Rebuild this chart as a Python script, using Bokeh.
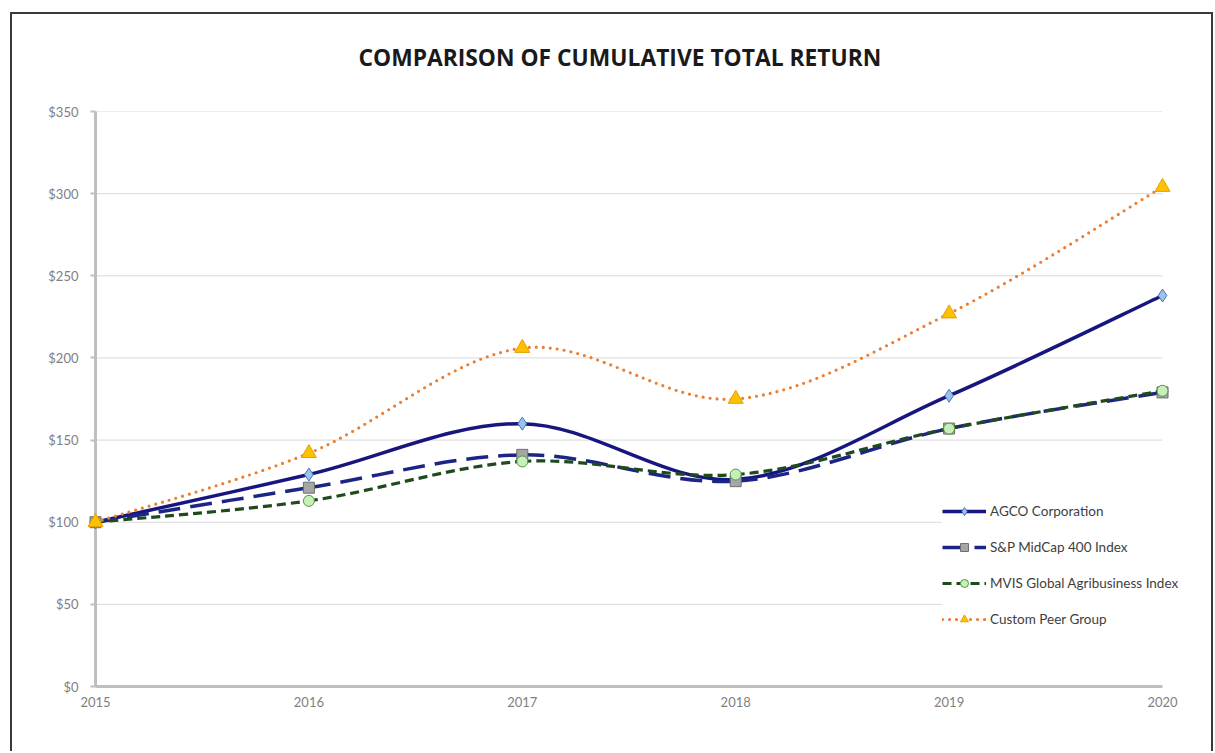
import numpy as np
from bokeh.plotting import figure
from bokeh.models import (Range1d, FixedTicker, NumeralTickFormatter, Legend, LegendItem,
                          ColumnDataSource)
from bokeh.embed import file_html
from bokeh.resources import INLINE

years = [2015, 2016, 2017, 2018, 2019, 2020]
agco = [100, 129, 160, 126, 177, 238]
sp400 = [100, 121, 141, 125, 157, 179]
mvis = [100, 113, 137, 129, 157, 180]
peer = [100, 142, 206, 175, 227, 304]
y_ticks = [0, 50, 100, 150, 200, 250, 300, 350]
title_text = "COMPARISON OF CUMULATIVE TOTAL RETURN"
names = ["AGCO Corporation", "S&P MidCap 400 Index",
         "MVIS Global Agribusiness Index", "Custom Peer Group"]

W, H = 1213, 751
FRAME_L, FRAME_R = 95, 8            # borders around the plotting frame (px)
px_per_year = 1067 / 5              # plot width from first to last year
x_end = years[-1] + (W - FRAME_L - FRAME_R - 1067) / px_per_year  # room for the legend

box = "#3A3A3A"
frame_css = (f"linear-gradient({box},{box}) 10px 12px / 1203px 2px no-repeat, "
             f"linear-gradient({box},{box}) 10px 12px / 2px 760px no-repeat, "
             f"linear-gradient({box},{box}) 1211px 12px / 2px 760px no-repeat, white")

p = figure(width=W, height=H, output_backend="svg", toolbar_location=None,
           x_range=Range1d(years[0], x_end), y_range=Range1d(y_ticks[0], y_ticks[-1]),
           min_border_left=FRAME_L, min_border_right=FRAME_R, min_border_top=111, min_border_bottom=65,
           styles={"background": frame_css})
p.outline_line_color = None
p.background_fill_color = "white"
p.border_fill_color = None

p.title.text = title_text
p.title.align = "left"
p.title.offset = 263
p.title.text_font = "Open Sans"
p.title.text_font_style = "bold"
p.title.text_font_size = "22.8px"
p.title.text_color = "#1A1A1A"
p.title.standoff = 77

# axes
p.xaxis.ticker = FixedTicker(ticks=years)
p.xaxis.bounds = (years[0], years[-1])
p.yaxis.ticker = FixedTicker(ticks=y_ticks)
p.yaxis.formatter = NumeralTickFormatter(format="$0")
for ax in (p.xaxis[0], p.yaxis[0]):
    ax.axis_line_color = "#BFBFBF"
    ax.axis_line_width = 3
    ax.major_tick_line_color = "#BFBFBF"
    ax.major_tick_line_width = 2
    ax.minor_tick_line_color = None
    ax.major_tick_in = 0
    ax.major_label_text_color = "#7F7F7F"
    ax.major_label_text_font = "Lato"
    ax.major_label_text_font_size = "13px"
p.yaxis.major_tick_out = 5
p.yaxis.major_label_standoff = 12
p.xaxis.major_tick_out = 0
p.xaxis.major_label_standoff = 10
p.xgrid.grid_line_color = None
p.ygrid.grid_line_color = None

# horizontal gridlines spanning only the years
p.segment(x0=years[0], x1=years[-1], y0=y_ticks[1:], y1=y_ticks[1:],
          line_color="#D9D9D9", line_width=1, level="underlay")


def smooth(xs, ys):
    x = np.asarray(xs, float)
    y = np.asarray(ys, float)
    xp = np.concatenate([[x[0]], x, [x[-1]]])
    yp = np.concatenate([[y[0]], y, [y[-1]]])
    n = len(x)
    d = {"x0": [], "y0": [], "x1": [], "y1": [], "cx0": [], "cy0": [], "cx1": [], "cy1": []}
    for i in range(n - 1):
        j = i + 1
        d["x0"].append(xp[j]); d["y0"].append(yp[j])
        d["x1"].append(xp[j + 1]); d["y1"].append(yp[j + 1])
        d["cx0"].append(xp[j] + (xp[j + 1] - xp[j - 1]) / 6)
        d["cy0"].append(yp[j] + (yp[j + 1] - yp[j - 1]) / 6)
        d["cx1"].append(xp[j + 1] - (xp[j + 2] - xp[j]) / 6)
        d["cy1"].append(yp[j + 1] - (yp[j + 2] - yp[j]) / 6)
    return ColumnDataSource(d)


styles = [
    dict(series=agco, color="#16167E", dash="solid", width=3.5,
         marker="diamond", size=13, fill="#9DC3E6", mline="#4472C4"),
    dict(series=sp400, color="#1C2585", dash="22 10", width=3.5,
         marker="square", size=11, fill="#A6A6A6", mline="#6F6F6F"),
    dict(series=mvis, color="#1E4A1E", dash="9 5", width=3.2,
         marker="circle", size=11, fill="#C6EFB9", mline="#4E9A3C"),
    dict(series=peer, color="#ED7D31", dash="0 7", width=3.2,
         marker="triangle", size=15, fill="#FFC000", mline="#E6A100"),
]

items = []
for name, st in zip(names, styles):
    src = smooth(years, st["series"])
    cap = "round" if st["marker"] == "triangle" else "butt"
    p.bezier(x0="x0", y0="y0", x1="x1", y1="y1", cx0="cx0", cy0="cy0", cx1="cx1", cy1="cy1",
             source=src, line_color=st["color"], line_width=st["width"],
             line_dash=st["dash"], line_cap=cap, level="overlay")
    sc = p.scatter(x=years, y=st["series"], marker=st["marker"], size=st["size"],
                   fill_color=st["fill"], line_color=st["mline"], line_width=1, level="overlay")
    dummy = p.line(x=[np.nan], y=[np.nan], line_color=st["color"], line_width=st["width"],
                   line_dash=st["dash"], line_cap=cap)
    items.append(LegendItem(label=name, renderers=[dummy, sc]))

legend = Legend(items=items, location=(847, 57), orientation="vertical",
                glyph_width=44, glyph_height=20, label_height=20, spacing=16,
                padding=19, margin=0, label_standoff=4,
                label_text_font="Lato", label_text_font_size="13.5px", label_text_color="#404040",
                border_line_color=None, background_fill_color="white", background_fill_alpha=1.0)
p.add_layout(legend, "center")

open("out.html", "w").write(file_html(p, INLINE))
